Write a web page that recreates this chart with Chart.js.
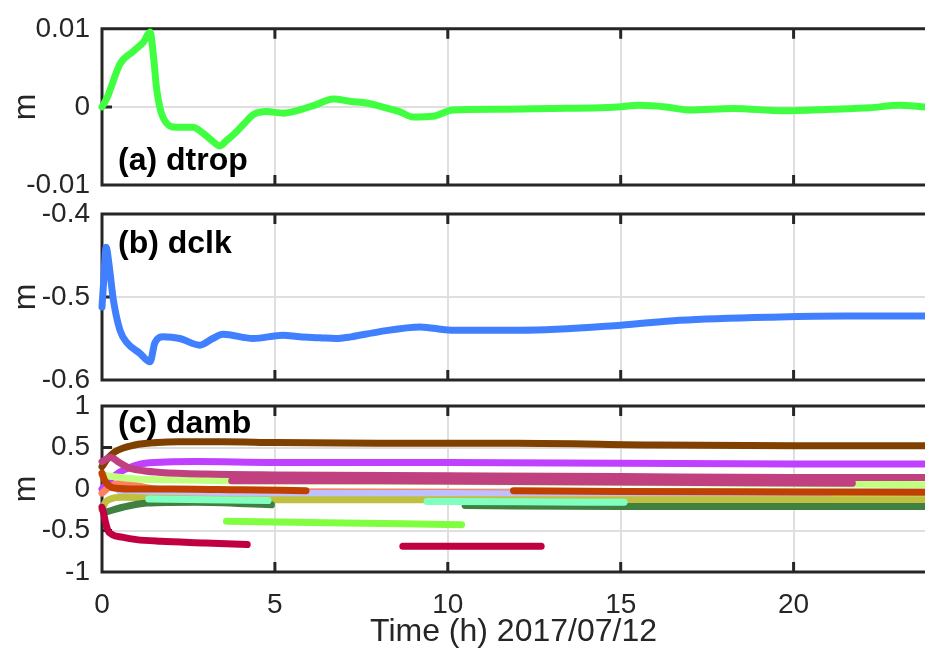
<!DOCTYPE html>
<html>
<head>
<meta charset="utf-8">
<script src="https://cdn.jsdelivr.net/npm/chart.js@4/dist/chart.umd.min.js"></script>
<style>
  html, body { margin: 0; padding: 0; background: #ffffff; }
  #fig { position: relative; width: 925px; height: 648px; overflow: hidden; background: #ffffff; }
  #fig canvas { position: absolute; left: 0; top: 0; }
  .tag { position: absolute; left: 118px; font: bold 32px "Liberation Sans", Arial, sans-serif; line-height: 1; color: #000; white-space: nowrap; }
</style>
</head>
<body>
<div id="fig">
  <canvas id="cTrop" width="925" height="648"></canvas>
  <canvas id="cClk" width="925" height="648"></canvas>
  <canvas id="cAmb" width="925" height="648"></canvas>
  <div class="tag" style="top:143px">(a) dtrop</div>
  <div class="tag" style="top:226px">(b) dclk</div>
  <div class="tag" style="top:406px">(c) damb</div>
</div>
<script>
// ---- time axis (hours) ----
const timeTicks = [0, 5, 10, 15, 20];
const timeMax = 23.8;
const timeTitle = 'Time (h) 2017/07/12';

// ---- (a) tropospheric delay correction, m ----
const tropTicks = [-0.01, 0, 0.01];
const tropTickLabels = ['-0.01', '0', '0.01'];
const tropTime = [0, 0.15, 0.52, 0.9, 1.2, 1.39, 1.5, 1.58, 1.77, 2.16, 2.63, 2.93, 3.2, 3.41, 3.6, 3.79, 4.1, 4.37, 4.77, 5.24, 5.7, 6.2, 6.68, 7.2, 7.65, 8.1, 8.6, 9.0, 9.57, 10.15, 11.5, 12.95, 14.4, 14.9, 15.55, 16.3, 17.0, 18.25, 19.7, 21.1, 22.2, 23.05, 23.8];
const tropVal = [0, 0.0012, 0.0055, 0.0071, 0.0083, 0.0096, 0.006, 0.0023, -0.0014, -0.0026, -0.0026, -0.0034, -0.0044, -0.005, -0.0043, -0.0036, -0.0022, -0.001, -0.0006, -0.0008, -0.0004, 0.0003, 0.001, 0.0007, 0.0005, 0.0, -0.0006, -0.0013, -0.0012, -0.0004, -0.0003, -0.0002, -0.0001, 0.0, 0.0002, 0.0, -0.0004, -0.0002, -0.0005, -0.0003, -0.0001, 0.0002, 0.0];

// ---- (b) receiver clock correction, m ----
const clkTicks = [-0.6, -0.5, -0.4];
const clkTickLabels = ['-0.6', '-0.5', '-0.4'];
const clkTime = [0, 0.05, 0.12, 0.2, 0.33, 0.52, 0.72, 1.1, 1.39, 1.53, 1.77, 2.25, 2.83, 3.2, 3.5, 4.37, 5.23, 5.72, 6.3, 6.76, 7.2, 8.0, 9.2, 10.1, 12.1, 15.0, 16.7, 19.6, 21.5, 23.8];
const clkVal = [-0.512, -0.48, -0.44, -0.46, -0.504, -0.54, -0.555, -0.568, -0.578, -0.555, -0.548, -0.55, -0.558, -0.55, -0.545, -0.55, -0.546, -0.548, -0.549, -0.55, -0.548, -0.542, -0.536, -0.54, -0.54, -0.534, -0.528, -0.524, -0.523, -0.523];

// ---- (c) ambiguity corrections per satellite arc, m ----
const ambTicks = [-1, -0.5, 0, 0.5, 1];
const ambTickLabels = ['-1', '-0.5', '0', '0.5', '1'];
const ambBrownT = [0, 0.15, 0.38, 0.95, 1.6, 2.2, 3.5, 5, 8, 12, 16, 20, 23.8];
const ambBrownV = [0.27, 0.36, 0.45, 0.53, 0.56, 0.57, 0.57, 0.56, 0.55, 0.55, 0.53, 0.52, 0.52];
const ambPurpleT = [0, 0.2, 0.5, 0.8, 1.25, 2.7, 5, 10, 15, 20, 23.8];
const ambPurpleV = [0.0, 0.1, 0.2, 0.26, 0.31, 0.33, 0.32, 0.32, 0.31, 0.3, 0.3];
const ambSalmonT = [0, 0.2, 0.5, 1.5, 3, 5, 8, 11.9];
const ambSalmonV = [-0.05, 0.02, 0.07, 0.0, -0.03, -0.035, -0.04, -0.045];
const ambLimeT = [0, 0.3, 1, 2, 3.75, 10, 18, 21.7, 23.8];
const ambLimeV = [0.17, 0.15, 0.12, 0.11, 0.1, 0.09, 0.07, 0.06, 0.05];
const ambLime2T = [18.3, 21, 23.8];
const ambLime2V = [-0.09, -0.09, -0.09];
const ambLavenderT = [0.5, 2, 5, 10, 15, 21];
const ambLavenderV = [-0.02, -0.045, -0.055, -0.055, -0.075, -0.09];
const ambOliveT = [0, 0.1, 0.25, 0.6, 1.5, 5, 10, 15, 20, 23.8];
const ambOliveV = [-0.25, -0.16, -0.12, -0.1, -0.11, -0.13, -0.13, -0.13, -0.13, -0.13];
const ambForestT = [0.1, 0.6, 1.3, 2.7, 4.9];
const ambForestV = [-0.28, -0.22, -0.17, -0.16, -0.19];
const ambForest2T = [10.5, 15, 20, 23.8];
const ambForest2V = [-0.2, -0.21, -0.21, -0.21];
const ambAquaT = [1.35, 3, 4.8];
const ambAquaV = [-0.12, -0.13, -0.14];
const ambAqua2T = [9.4, 12, 15.1];
const ambAqua2V = [-0.15, -0.155, -0.16];
const ambOrangeT = [0, 0.08, 0.2, 0.4, 1, 2, 4, 5.9];
const ambOrangeV = [0.19, 0.1, 0.04, 0.01, 0.0, 0.0, -0.01, -0.02];
const ambOrange2T = [11.9, 15, 20, 23.8];
const ambOrange2V = [-0.02, -0.03, -0.035, -0.04];
const ambMauveT = [0, 0.25, 0.5, 0.75, 1.2, 1.7, 3, 5, 10, 15, 20, 23.8];
const ambMauveV = [0.33, 0.38, 0.32, 0.26, 0.22, 0.2, 0.18, 0.17, 0.16, 0.15, 0.14, 0.14];
const ambMauve2T = [3.75, 8, 12, 16, 21.7];
const ambMauve2V = [0.1, 0.1, 0.09, 0.08, 0.07];
const ambGreenT = [3.6, 7, 10.4];
const ambGreenV = [-0.39, -0.41, -0.43];
const ambCrimsonT = [0, 0.05, 0.1, 0.17, 0.3, 0.58, 1, 1.7, 3, 4.2];
const ambCrimsonV = [-0.22, -0.3, -0.4, -0.5, -0.55, -0.58, -0.61, -0.63, -0.65, -0.67];
const ambCrimson2T = [8.7, 10.5, 12.7];
const ambCrimson2V = [-0.69, -0.69, -0.69];

// ---- drawing ----
const FONT = '"Liberation Sans", Arial, Helvetica, sans-serif';
const INK = '#262626';
const GRID = '#dfdfdf';

function pts(t, v) { return t.map((x, i) => ({ x: x, y: v[i] })); }

function series(t, v, color) {
  return {
    data: pts(t, v), borderColor: color, backgroundColor: color,
    borderWidth: 7, pointRadius: 0, fill: false,
    cubicInterpolationMode: 'monotone', borderCapStyle: 'round', borderJoinStyle: 'round',
    clip: 5
  };
}

// Chart.js paints dataset 0 last (on top); list arcs bottom-to-top and flip
function paintOrder(list) { return list.slice().reverse(); }

// box (top, left, bottom) with inward tick marks, drawn beneath the curves
const frame = {
  id: 'frame',
  beforeDatasetsDraw(chart) {
    const { ctx, chartArea: a, scales: { x, y } } = chart;
    ctx.save();
    ctx.strokeStyle = INK;
    ctx.lineWidth = 3;
    ctx.beginPath();
    ctx.moveTo(a.right + 3, a.top);
    ctx.lineTo(a.left, a.top);
    ctx.lineTo(a.left, a.bottom);
    ctx.lineTo(a.right + 3, a.bottom);
    x.ticks.forEach(t => {
      const px = x.getPixelForValue(t.value);
      ctx.moveTo(px, a.top); ctx.lineTo(px, a.top + 10);
      ctx.moveTo(px, a.bottom); ctx.lineTo(px, a.bottom - 10);
    });
    y.ticks.forEach(t => {
      const py = y.getPixelForValue(t.value);
      ctx.moveTo(a.left, py); ctx.lineTo(a.left + 10, py);
    });
    ctx.stroke();
    ctx.restore();
  }
};

function makePanel(id, datasets, yMin, yMax, yTicks, yLabels, padTop, padBottom, showTime) {
  new Chart(document.getElementById(id), {
    type: 'line',
    data: { datasets: datasets },
    plugins: [frame],
    options: {
      responsive: false,
      animation: false,
      devicePixelRatio: 1,
      events: [],
      layout: { padding: { top: padTop, bottom: padBottom, left: 0, right: 0 } },
      plugins: { legend: { display: false }, tooltip: { enabled: false } },
      scales: {
        x: {
          type: 'linear', min: 0, max: timeMax,
          afterBuildTicks: s => { s.ticks = timeTicks.map(v => ({ value: v })); },
          afterFit: s => { s.height = showTime ? 76 : 0; },
          border: { display: false },
          grid: { color: GRID, lineWidth: 2, drawTicks: false },
          ticks: { display: showTime, includeBounds: false, padding: 16, color: INK, font: { family: FONT, size: 28 },
                   callback: v => String(v), maxRotation: 0 },
          title: { display: showTime, text: timeTitle, color: INK, font: { family: FONT, size: 32 }, padding: { top: 0, bottom: -3 } }
        },
        y: {
          type: 'linear', min: yMin, max: yMax,
          afterBuildTicks: s => { s.ticks = yTicks.map(v => ({ value: v })); },
          afterFit: s => { s.width = 102; },
          border: { display: false },
          grid: { color: GRID, lineWidth: 2, drawTicks: false },
          ticks: { padding: 12, color: INK, font: { family: FONT, size: 28 },
                   callback: v => { const i = yTicks.indexOf(v); return i >= 0 ? yLabels[i] : ''; } },
          title: { display: true, text: 'm', color: INK, font: { family: FONT, size: 32 }, padding: { top: 7, bottom: 0 } }
        }
      }
    }
  });
}

makePanel('cTrop', [series(tropTime, tropVal, '#40ff40')], -0.01, 0.01, tropTicks, tropTickLabels, 20, 463, false);
makePanel('cClk', [series(clkTime, clkVal, '#4080ff')], -0.6, -0.4, clkTicks, clkTickLabels, 214, 268, false);
makePanel('cAmb', paintOrder([
  series(ambBrownT, ambBrownV, '#804000'),
  series(ambPurpleT, ambPurpleV, '#c040ff'),
  series(ambSalmonT, ambSalmonV, '#ff8060'),
  series(ambLimeT, ambLimeV, '#c0ff80'),
  series(ambLime2T, ambLime2V, '#c0ff80'),
  series(ambLavenderT, ambLavenderV, '#c0c0ff'),
  series(ambOliveT, ambOliveV, '#c0c040'),
  series(ambForestT, ambForestV, '#408040'),
  series(ambForest2T, ambForest2V, '#408040'),
  series(ambAquaT, ambAquaV, '#80ffc0'),
  series(ambAqua2T, ambAqua2V, '#80ffc0'),
  series(ambOrangeT, ambOrangeV, '#c04000'),
  series(ambOrange2T, ambOrange2V, '#c04000'),
  series(ambMauveT, ambMauveV, '#c04080'),
  series(ambMauve2T, ambMauve2V, '#c04080'),
  series(ambGreenT, ambGreenV, '#80ff40'),
  series(ambCrimsonT, ambCrimsonV, '#c00040'),
  series(ambCrimson2T, ambCrimson2V, '#c00040')
]), -1, 1, ambTicks, ambTickLabels, 406, 0, true);
</script>
</body>
</html>
